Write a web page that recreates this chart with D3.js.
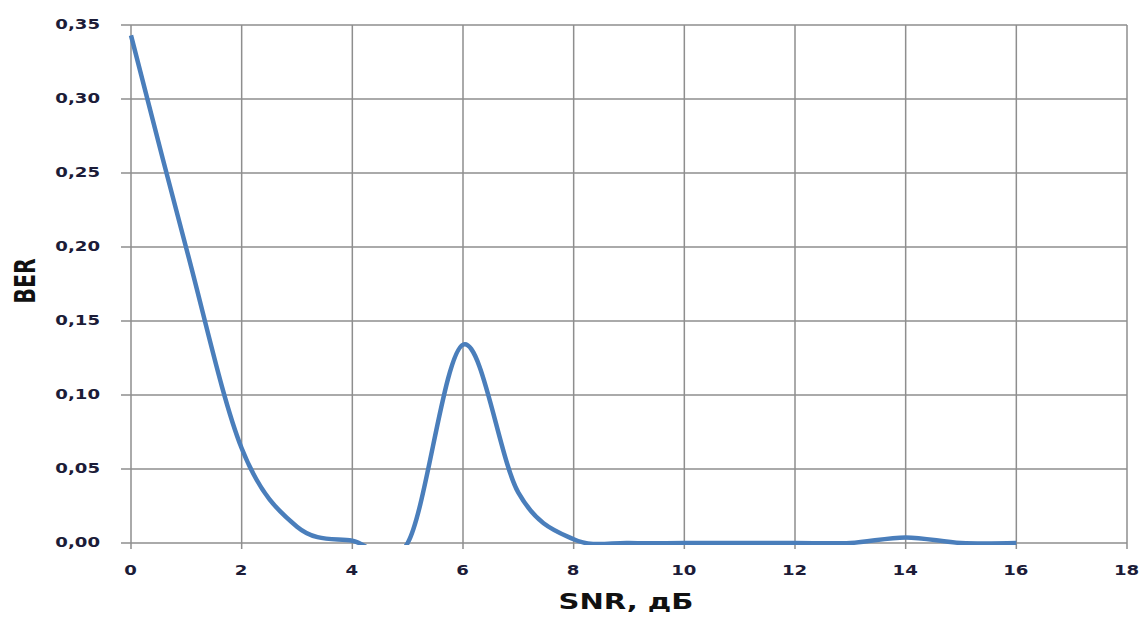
<!DOCTYPE html>
<html>
<head>
<meta charset="utf-8">
<script src="https://cdn.jsdelivr.net/npm/d3@7"></script>
<style>
  html, body { margin: 0; padding: 0; background: #fff; }
  svg { display: block; }
</style>
</head>
<body>
<svg id="chart" width="1141" height="617"></svg>
<script>
// ---- data ----
const snr = [0, 1, 2, 3, 4, 5, 6, 7, 8, 9, 10, 11, 12, 13, 14, 15, 16];
const ber = [0.343, 0.199, 0.064, 0.011, 0.0015, 0.0, 0.134, 0.034, 0.0025, 0, 0, 0, 0, 0, 0.0038, 0, 0];
const xTicks = [0, 2, 4, 6, 8, 10, 12, 14, 16, 18];
const yTicks = [0, 0.05, 0.10, 0.15, 0.20, 0.25, 0.30, 0.35];
const xTitle = "SNR, дБ";
const yTitle = "BER";

const svg = d3.select("#chart");
const pLeft = 131, pRight = 1127, pTop = 25, pBottom = 543;
const x = d3.scaleLinear().domain([0, 18]).range([pLeft, pRight]);
const y = d3.scaleLinear().domain([0, 0.35]).range([pBottom, pTop]);

const gridColor = "#8e8e8e";
const textColor = "#1c1c38";
const stretch = 1.25;
const font = "'DejaVu Sans', Verdana, sans-serif";

// gridlines
svg.append("g").selectAll("line").data(yTicks).join("line")
  .attr("x1", pLeft - 10).attr("x2", pRight)
  .attr("y1", d => y(d)).attr("y2", d => y(d))
  .attr("stroke", gridColor).attr("stroke-width", 1.5);
svg.append("g").selectAll("line").data(xTicks).join("line")
  .attr("x1", d => x(d)).attr("x2", d => x(d))
  .attr("y1", pTop).attr("y2", pBottom + 6)
  .attr("stroke", gridColor).attr("stroke-width", 1.5);

// axes (labels via d3 axis)
const fmt = d => d3.format(".2f")(d).replace(".", ",");
const yAxis = svg.append("g").attr("transform", `translate(${pLeft},0)`)
  .call(d3.axisLeft(y).tickValues(yTicks).tickFormat(fmt).tickSize(0).tickPadding(0));
yAxis.select(".domain").remove();
yAxis.selectAll("text")
  .attr("x", 0).attr("dy", "0.32em")
  .attr("transform", `translate(-31,-1) scale(${stretch},1)`)
  .attr("fill", textColor).attr("font-family", font).attr("font-size", 14.5)
  .attr("font-weight", 600).attr("text-anchor", "end");

const xAxis = svg.append("g").attr("transform", `translate(0,${pBottom})`)
  .call(d3.axisBottom(x).tickValues(xTicks).tickFormat(d => String(d)).tickSize(0).tickPadding(0));
xAxis.select(".domain").remove();
xAxis.selectAll("text")
  .attr("y", 0).attr("dy", 0)
  .attr("transform", `translate(-1,32) scale(${stretch},1)`)
  .attr("fill", textColor).attr("font-family", font).attr("font-size", 14.5)
  .attr("font-weight", 600).attr("text-anchor", "middle");

// line
svg.append("clipPath").attr("id", "clip")
  .append("rect").attr("x", pLeft - 5).attr("y", pTop - 5)
  .attr("width", pRight - pLeft + 10).attr("height", pBottom - pTop + 7);

const line = d3.line()
  .x((d, i) => x(snr[i]))
  .y(d => y(d))
  .curve(d3.curveCatmullRom.alpha(0));

svg.append("path")
  .datum(ber)
  .attr("clip-path", "url(#clip)")
  .attr("d", line)
  .attr("fill", "none")
  .attr("stroke", "#4a7ebb")
  .attr("stroke-width", 4.5)
  .attr("stroke-linejoin", "round")
  .attr("stroke-linecap", "butt");

// titles
svg.append("text")
  .attr("transform", `translate(626,609) scale(1.42,1)`)
  .attr("text-anchor", "middle")
  .attr("font-family", font).attr("font-weight", "bold").attr("font-size", 20.5)
  .attr("fill", "#111")
  .text(xTitle);

svg.append("text")
  .attr("transform", `translate(35,281) scale(1.4,1) rotate(-90)`)
  .attr("text-anchor", "middle")
  .attr("font-family", font).attr("font-weight", "bold").attr("font-size", 20.5)
  .attr("fill", "#111")
  .text(yTitle);
</script>
</body>
</html>
